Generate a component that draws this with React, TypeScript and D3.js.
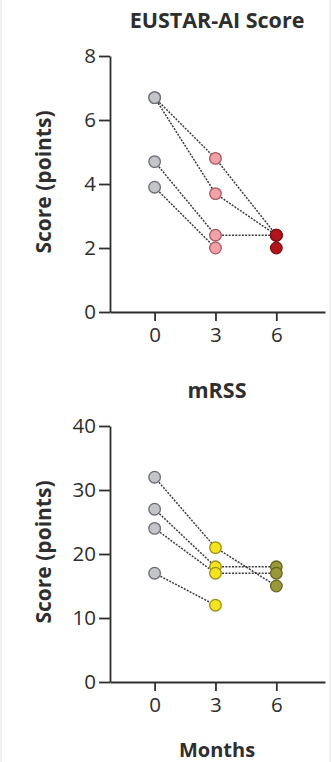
import { useEffect, useRef } from "react";
import * as d3 from "d3";

// months shown on the x axis
const MONTHS = [0, 3, 6];

// EUSTAR-AI score, one row per patient (null = no value)
const EUSTAR_PATIENTS: (number | null)[][] = [
  [6.7, 4.8, 2.4],
  [6.7, 3.7, 2.4],
  [4.7, 2.4, 2.4],
  [3.9, 2.0, null],
  [null, null, 2.0],
];
const EUSTAR_TICKS = [0, 2, 4, 6, 8];

// mRSS, one row per patient
const MRSS_PATIENTS: (number | null)[][] = [
  [32, 21, 15],
  [27, 18, 18],
  [24, 17, 17],
  [17, 12, null],
];
const MRSS_TICKS = [0, 10, 20, 30, 40];

const FONT = "'Open Sans', 'Noto Sans', sans-serif";
const INK = "#2e2e2e";

interface Panel {
  title: string;
  patients: (number | null)[][];
  ticks: number[];
  top: number;
  fills: string[];
  strokes: string[];
}

const PANELS: Panel[] = [
  {
    title: "EUSTAR-AI Score",
    patients: EUSTAR_PATIENTS,
    ticks: EUSTAR_TICKS,
    top: 56,
    fills: ["#c4c4cb", "#f2a1a8", "#b3141c"],
    strokes: ["#6e6e74", "#a85a61", "#7e1016"],
  },
  {
    title: "mRSS",
    patients: MRSS_PATIENTS,
    ticks: MRSS_TICKS,
    top: 426,
    fills: ["#c4c4cb", "#f4e41e", "#9a983a"],
    strokes: ["#6e6e74", "#9c901a", "#66641e"],
  },
];

export default function App() {
  const svgRef = useRef<SVGSVGElement>(null);

  useEffect(() => {
    if (!svgRef.current) return;
    const svg = d3.select(svgRef.current);
    svg.selectAll("*").remove();

    const W = 331;
    const H = 762;
    const plotH = 256;
    const left = 110;
    const right = 325;

    // faint frame on the sides, like the scanned figure
    svg.append("line").attr("x1", 1).attr("x2", 1).attr("y1", 0).attr("y2", H).attr("stroke", "#e4e4e4");
    svg.append("line").attr("x1", W - 1).attr("x2", W - 1).attr("y1", 0).attr("y2", H).attr("stroke", "#e4e4e4");

    const x = d3.scaleLinear().domain([-2.2, 8.4]).range([left, right]);

    PANELS.forEach((p) => {
      const bottom = p.top + plotH;
      const y = d3.scaleLinear().domain([0, d3.max(p.ticks) ?? 1]).range([bottom, p.top]);
      const g = svg.append("g");

      g.append("text")
        .attr("x", 217).attr("y", p.top - 28)
        .attr("text-anchor", "middle")
        .attr("font-family", FONT).attr("font-weight", 700).attr("font-size", 21.5)
        .attr("fill", INK)
        .text(p.title);

      g.append("text")
        .attr("transform", `translate(51,${(p.top + bottom) / 2 - 2}) rotate(-90)`)
        .attr("text-anchor", "middle")
        .attr("font-family", FONT).attr("font-weight", 700).attr("font-size", 21)
        .attr("fill", INK)
        .text("Score (points)");

      const yAx = g.append("g")
        .attr("transform", `translate(${left},0)`)
        .call(d3.axisLeft(y).tickValues(p.ticks).tickSize(11).tickPadding(3).tickSizeOuter(0));
      const xAx = g.append("g")
        .attr("transform", `translate(0,${bottom})`)
        .call(d3.axisBottom(x).tickValues(MONTHS).tickSize(9).tickPadding(6).tickSizeOuter(0));

      [yAx, xAx].forEach((ax) => {
        ax.select(".domain").attr("stroke", INK).attr("stroke-width", 1.8);
        ax.selectAll(".tick line").attr("stroke", INK).attr("stroke-width", 1.8);
        ax.selectAll("text")
          .attr("font-family", FONT).attr("font-size", 20.5).attr("fill", INK);
      });

      // dashed connectors between visits
      p.patients.forEach((row) => {
        for (let i = 0; i < row.length - 1; i++) {
          const a = row[i];
          const b = row[i + 1];
          if (a == null || b == null) continue;
          g.append("line")
            .attr("x1", x(MONTHS[i])).attr("y1", y(a))
            .attr("x2", x(MONTHS[i + 1])).attr("y2", y(b))
            .attr("stroke", "#3c3c42").attr("stroke-width", 1.5)
            .attr("stroke-dasharray", "2,1.3");
        }
      });

      p.patients.forEach((row) => {
        row.forEach((v, i) => {
          if (v == null) return;
          g.append("circle")
            .attr("cx", x(MONTHS[i])).attr("cy", y(v))
            .attr("r", 5.8)
            .attr("fill", p.fills[i])
            .attr("stroke", p.strokes[i]).attr("stroke-width", 1.3);
        });
      });

      if (p === PANELS[PANELS.length - 1]) {
        g.append("text")
          .attr("x", 217).attr("y", 757)
          .attr("text-anchor", "middle")
          .attr("font-family", FONT).attr("font-weight", 700).attr("font-size", 20)
          .attr("fill", INK)
          .text("Months");
      }
    });
  }, []);

  return (
    <svg
      ref={svgRef}
      width={331}
      height={762}
      style={{ position: "absolute", left: 0, top: 0, background: "#fff" }}
    />
  );
}
